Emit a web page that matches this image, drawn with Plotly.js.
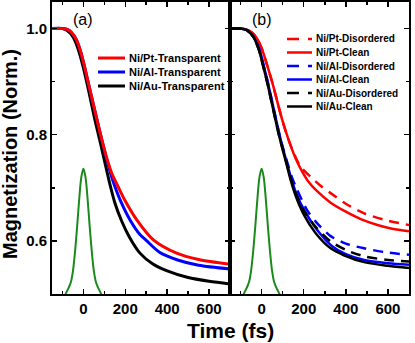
<!DOCTYPE html>
<html>
<head>
<meta charset="utf-8">
<script src="https://cdn.plot.ly/plotly-3.0.1.min.js"></script>
<style>
  html, body { margin: 0; padding: 0; background: #fff; }
  #plot { width: 415px; height: 343px; }
</style>
</head>
<body>
<div id="plot"></div>
<script>
// ---- data ------------------------------------------------------------------
// laser pulse (green), drawn in both panels
const tPulse = [-100, -90, -80, -70, -60, -50, -40, -30, -20, -10, 0, 10, 20, 30, 40, 50, 60, 70, 80, 90, 100];
const pulse  = [0.48, 0.495, 0.504, 0.512, 0.522, 0.543, 0.58, 0.627, 0.679, 0.72, 0.736,
                0.72, 0.679, 0.627, 0.58, 0.543, 0.522, 0.512, 0.504, 0.495, 0.48];

// (a) transparent interfaces
const tPtA = [-150, -100, -75, -56, -35, -16, 3, 23, 44, 65, 80, 95, 111, 135, 166, 200, 254, 334, 445, 550, 700];
const ptA  = [1.0, 1.0, 0.998, 0.992, 0.98, 0.96, 0.932, 0.898, 0.863, 0.828, 0.803, 0.78, 0.757, 0.728, 0.702, 0.675, 0.64, 0.602, 0.577, 0.565, 0.556];
const tAlA = [-150, -100, -75, -56, -35, -16, 3, 23, 44, 65, 80, 95, 111, 130, 150, 180, 222, 270, 300, 365, 450, 550, 700];
const alA  = [1.0, 1.0, 0.998, 0.992, 0.98, 0.96, 0.932, 0.898, 0.863, 0.828, 0.803, 0.779, 0.754, 0.727, 0.703, 0.673, 0.64, 0.612, 0.601, 0.578, 0.564, 0.554, 0.547];
const tAuA = [-150, -100, -80, -60, -40, -20, 0, 20, 37, 55, 70, 84, 100, 127, 150, 182, 220, 270, 330, 397, 500, 600, 700];
const auA  = [1.0, 1.0, 0.997, 0.99, 0.977, 0.955, 0.926, 0.892, 0.861, 0.828, 0.803, 0.78, 0.752, 0.706, 0.672, 0.638, 0.607, 0.577, 0.557, 0.544, 0.531, 0.524, 0.519];

// (b) disordered vs clean interfaces
const tPtDis = [-150, -100, -70, -45, -20, 3, 27, 51, 75, 98, 120, 140, 162, 185, 232, 280, 328, 400, 487, 600, 700];
const ptDis  = [1.0, 1.0, 0.998, 0.992, 0.98, 0.96, 0.93, 0.898, 0.862, 0.828, 0.8, 0.778, 0.757, 0.74, 0.721, 0.704, 0.69, 0.67, 0.652, 0.638, 0.63];
const tPtCl  = [-150, -100, -70, -45, -20, 3, 27, 51, 75, 98, 120, 140, 162, 185, 220, 260, 328, 400, 471, 550, 620, 700];
const ptCl   = [1.0, 1.0, 0.998, 0.992, 0.98, 0.96, 0.93, 0.898, 0.862, 0.828, 0.8, 0.777, 0.755, 0.736, 0.713, 0.695, 0.672, 0.655, 0.641, 0.63, 0.623, 0.618];
const tAlDis = [-150, -100, -70, -40, -10, 10, 30, 50, 69, 85, 101, 122, 142, 168, 216, 260, 328, 400, 487, 600, 700];
const alDis  = [1.0, 1.0, 0.997, 0.985, 0.96, 0.93, 0.898, 0.862, 0.828, 0.8, 0.776, 0.748, 0.722, 0.697, 0.658, 0.635, 0.609, 0.595, 0.586, 0.578, 0.574];
const tAlCl  = [-150, -100, -70, -40, -10, 10, 30, 50, 69, 85, 101, 122, 142, 163, 205, 265, 335, 400, 487, 600, 700];
const alCl   = [1.0, 1.0, 0.997, 0.985, 0.96, 0.93, 0.898, 0.862, 0.828, 0.8, 0.775, 0.744, 0.716, 0.691, 0.656, 0.62, 0.59, 0.575, 0.564, 0.558, 0.555];
const tAuDis = [-150, -100, -70, -40, -13, 7, 27, 47, 66, 82, 98, 120, 140, 160, 200, 260, 328, 400, 487, 600, 700];
const auDis  = [1.0, 1.0, 0.997, 0.985, 0.96, 0.93, 0.898, 0.862, 0.828, 0.8, 0.776, 0.745, 0.716, 0.692, 0.658, 0.625, 0.599, 0.583, 0.571, 0.564, 0.561];
const tAuCl  = [-150, -100, -70, -40, -13, 7, 27, 47, 66, 82, 98, 120, 140, 160, 200, 256, 328, 391, 487, 600, 700];
const auCl   = [1.0, 1.0, 0.997, 0.985, 0.96, 0.93, 0.898, 0.862, 0.828, 0.8, 0.775, 0.742, 0.712, 0.687, 0.65, 0.615, 0.586, 0.573, 0.56, 0.553, 0.549];

const namesA = ['Ni/Pt-Transparent', 'Ni/Al-Transparent', 'Ni/Au-Transparent'];
const namesB = ['Ni/Pt-Disordered', 'Ni/Pt-Clean', 'Ni/Al-Disordered', 'Ni/Al-Clean', 'Ni/Au-Disordered', 'Ni/Au-Clean'];
const xTicks = [0, 200, 400, 600];
const yTicks = [0.6, 0.8, 1.0];

// ---- styling -----------------------------------------------------------------
const RED = '#ff0000', BLUE = '#0000ff', BLACK = '#000000', GREEN = '#1a8a1a';
const DASH = '10px,7px';
const FONT = 'Liberation Sans, Arial, Helvetica, sans-serif';

// pixel -> paper helpers (plot area spans x 52..409, y 2..294)
const M = { l: 52, r: 6, t: 2, b: 49, W: 415, H: 343 };
const px = (x) => (x - M.l) / (M.W - M.l - M.r);
const py = (y) => (M.H - M.b - y) / (M.H - M.t - M.b);

function line(x, y, color, width, xa, ya, dash) {
  return { x, y, xaxis: xa, yaxis: ya, mode: 'lines', hoverinfo: 'skip', showlegend: false,
    line: { color, width, dash: dash || 'solid', shape: 'spline', smoothing: 0.8 } };
}

const traces = [
  line(tPulse, pulse, GREEN, 2, 'x', 'y'),
  line(tAuA, auA, BLACK, 3, 'x', 'y'),
  line(tAlA, alA, BLUE, 3, 'x', 'y'),
  line(tPtA, ptA, RED, 3, 'x', 'y'),

  line(tPulse, pulse, GREEN, 2, 'x2', 'y2'),
  line(tPtDis, ptDis, RED, 2.5, 'x2', 'y2', DASH),
  line(tPtCl, ptCl, RED, 2.5, 'x2', 'y2'),
  line(tAlDis, alDis, BLUE, 2.5, 'x2', 'y2', DASH),
  line(tAlCl, alCl, BLUE, 2.5, 'x2', 'y2'),
  line(tAuDis, auDis, BLACK, 2.5, 'x2', 'y2', DASH),
  line(tAuCl, auCl, BLACK, 2.5, 'x2', 'y2'),
];

// ---- hand-placed legends (rows tighter than Plotly's own legend allows) ---------
const shapes = [], ann = [];
const colorsA = [RED, BLUE, BLACK];
namesA.forEach((n, i) => {
  const yy = 58 + i * 14;
  shapes.push({ type: 'line', xref: 'paper', yref: 'paper', x0: px(98), x1: px(125), y0: py(yy), y1: py(yy),
    line: { color: colorsA[i], width: 3 } });
  ann.push({ xref: 'paper', yref: 'paper', x: px(127), y: py(yy), xanchor: 'left', yanchor: 'middle',
    text: n, showarrow: false, font: { family: FONT, size: 11, weight: 'bold', color: '#000' } });
});
const colorsB = [RED, RED, BLUE, BLUE, BLACK, BLACK];
namesB.forEach((n, i) => {
  const yy = 39 + i * 13.5;
  shapes.push({ type: 'line', xref: 'paper', yref: 'paper', x0: px(287), x1: px(312), y0: py(yy), y1: py(yy),
    line: { color: colorsB[i], width: 2.5, dash: i % 2 === 0 ? '12px,9px' : 'solid' } });
  ann.push({ xref: 'paper', yref: 'paper', x: px(314), y: py(yy), xanchor: 'left', yanchor: 'middle',
    text: n, showarrow: false, font: { family: FONT, size: 10, weight: 'bold', color: '#000' } });
});

// panel labels, sitting over t = 0
ann.push({ xref: 'x', yref: 'y', x: 0, y: 1.017, text: '(a)', showarrow: false,
  font: { family: FONT, size: 16, color: '#000' } });
ann.push({ xref: 'x2', yref: 'y2', x: 0, y: 1.017, text: '(b)', showarrow: false,
  font: { family: FONT, size: 16, color: '#000' } });

// axis titles
ann.push({ xref: 'paper', yref: 'paper', x: 0.5, y: py(330), xanchor: 'center', yanchor: 'middle',
  text: 'Time (fs)', showarrow: false, font: { family: FONT, size: 21, weight: 'bold', color: '#000' } });
ann.push({ xref: 'paper', yref: 'paper', x: px(10), y: py(154), xanchor: 'center', yanchor: 'middle',
  textangle: -90, text: 'Magnetization (Norm.)', showarrow: false,
  font: { family: FONT, size: 20, weight: 'bold', color: '#000' } });

function xAxis(domain) {
  return { domain, range: [-150, 700], tickvals: xTicks, ticktext: xTicks.map(String),
    ticks: 'inside', ticklen: 5, tickwidth: 1.5, tickcolor: '#000',
    minor: { dtick: 100, tick0: 0, ticks: 'inside', ticklen: 3, tickwidth: 1.5, tickcolor: '#000' },
    showline: true, linewidth: 2, linecolor: '#000', mirror: 'allticks',
    showgrid: false, zeroline: false,
    tickfont: { family: FONT, size: 15, weight: 'bold', color: '#000' } };
}
function yAxis(anchor, labels) {
  return { anchor, range: [0.5, 1.05], tickvals: yTicks, ticktext: yTicks.map((v) => v.toFixed(1)),
    showticklabels: labels,
    ticks: 'inside', ticklen: 5, tickwidth: 1.5, tickcolor: '#000',
    minor: { dtick: 0.1, tick0: 0, ticks: 'inside', ticklen: 3, tickwidth: 1.5, tickcolor: '#000' },
    showline: true, linewidth: 2, linecolor: '#000', mirror: 'allticks',
    showgrid: false, zeroline: false,
    tickfont: { family: FONT, size: 15, weight: 'bold', color: '#000' } };
}

const layout = {
  width: M.W, height: M.H,
  margin: { l: M.l, r: M.r, t: M.t, b: M.b },
  paper_bgcolor: '#fff', plot_bgcolor: '#fff',
  showlegend: false,
  xaxis: xAxis([0, 0.4986]),
  xaxis2: xAxis([0.4986, 1]),
  yaxis: yAxis('x', true),
  yaxis2: yAxis('x2', false),
  shapes, annotations: ann,
};

Plotly.newPlot('plot', traces, layout, { staticPlot: true });
</script>
</body>
</html>
